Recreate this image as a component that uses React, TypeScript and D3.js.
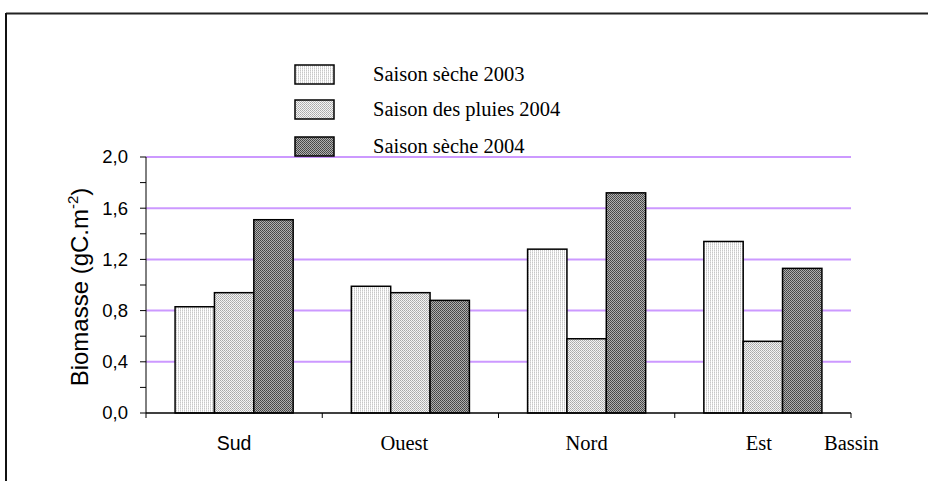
import React from "react";
import * as d3 from "d3";

const categories = ["Sud", "Ouest", "Nord", "Est"];
const seriesNames = ["Saison sèche 2003", "Saison des pluies 2004", "Saison sèche 2004"];
const seche2003 = [0.83, 0.99, 1.28, 1.34];
const pluies2004 = [0.94, 0.94, 0.58, 0.56];
const seche2004 = [1.51, 0.88, 1.72, 1.13];
const yTicks = [0, 0.4, 0.8, 1.2, 1.6, 2.0];
const yMinorTicks = [0.2, 0.6, 1.0, 1.4, 1.8];
const xAxisName = "Bassin";

const W = 928;
const H = 481;
const x0 = 146;
const x1 = 851;
const yTop = 157;
const yBot = 413;

export default function App() {
  const series = [seche2003, pluies2004, seche2004];
  const x = d3.scaleBand<string>().domain(categories).range([x0, x1]).paddingInner(0.33).paddingOuter(0.165);
  const xs = d3.scaleBand<number>().domain([0, 1, 2]).range([0, x.bandwidth()]).padding(0);
  const y = d3.scaleLinear().domain([0, 2]).range([yBot, yTop]);
  const step = (x1 - x0) / categories.length;
  const boundaries = d3.range(1, categories.length + 1).map((i) => x0 + i * step);
  const patIds = ["p1", "p2", "p3"];
  const serif = "'Liberation Serif', 'Times New Roman', serif";
  const sans = "'Liberation Sans', Arial, sans-serif";
  const legendY = [65, 100, 137];
  const fmt = (v: number) => v.toFixed(1).replace(".", ",");

  return (
    <svg width={W} height={H} style={{ position: "absolute", left: 0, top: 0 }}>
      <defs>
        <pattern id="p1" width="2" height="2" patternUnits="userSpaceOnUse">
          <rect width="2" height="2" fill="#ffffff" />
          <rect x="0" y="0" width="1" height="1" fill="#c8c8c8" />
          <rect x="0" y="1" width="1" height="1" fill="#e0e0e0" />
        </pattern>
        <pattern id="p2" width="2" height="2" patternUnits="userSpaceOnUse">
          <rect width="2" height="2" fill="#f4f4f4" />
          <rect x="0" y="0" width="1" height="1" fill="#a8a8a8" />
          <rect x="1" y="1" width="1" height="1" fill="#b8b8b8" />
        </pattern>
        <pattern id="p3" width="2" height="2" patternUnits="userSpaceOnUse">
          <rect width="2" height="2" fill="#b0b0b0" />
          <rect x="0" y="0" width="1" height="1" fill="#444444" />
          <rect x="1" y="1" width="1" height="1" fill="#505050" />
        </pattern>
      </defs>
      <rect width={W} height={H} fill="#ffffff" />
      {/* frame */}
      <line x1={6} x2={W} y1={13.5} y2={13.5} stroke="#222" strokeWidth={2} />
      <line x1={6} x2={6} y1={13} y2={H} stroke="#111" strokeWidth={2} />

      {/* gridlines */}
      {yTicks.filter((t) => t > 0).map((t) => (
        <line key={"g" + t} x1={x0} x2={x1} y1={y(t)} y2={y(t)} stroke="#cc99ff" strokeWidth={2} />
      ))}

      {/* bars */}
      {categories.map((c, i) => (
        <g key={c}>
          {series.map((s, j) => (
            <rect
              key={j}
              x={(x(c) as number) + (xs(j) as number)}
              y={y(s[i])}
              width={xs.bandwidth()}
              height={y(0) - y(s[i])}
              fill={`url(#${patIds[j]})`}
              stroke="#000"
              strokeWidth={1.5}
            />
          ))}
        </g>
      ))}

      {/* y axis */}
      <line x1={x0} x2={x0} y1={yTop} y2={yBot + 5} stroke="#000" strokeWidth={1} />
      {yTicks.map((t) => (
        <g key={"t" + t}>
          <line x1={x0 - 6} x2={x0} y1={y(t)} y2={y(t)} stroke="#000" strokeWidth={1} />
          <text x={x0 - 18} y={y(t)} dy="0.35em" textAnchor="end" fontFamily={sans} fontSize={18.5} fill="#000">
            {fmt(t)}
          </text>
        </g>
      ))}
      {yMinorTicks.map((t) => (
        <line key={"m" + t} x1={x0 - 6} x2={x0} y1={y(t)} y2={y(t)} stroke="#000" strokeWidth={1} />
      ))}
      <text
        transform={`translate(${88},${(yTop + yBot) / 2 + 2}) rotate(-90)`}
        textAnchor="middle"
        fontFamily={sans}
        fontSize={24}
        fill="#000"
      >
        Biomasse (gC.m
        <tspan fontSize={15} dy={-10}>-2</tspan>
        <tspan dy={10}>)</tspan>
      </text>

      {/* x axis */}
      <line x1={x0} x2={x1} y1={yBot} y2={yBot} stroke="#000" strokeWidth={1.5} />
      {boundaries.map((b, i) => (
        <line key={"b" + i} x1={b} x2={b} y1={yBot} y2={yBot + 5} stroke="#000" strokeWidth={1} />
      ))}
      {categories.map((c, i) => (
        <text
          key={"l" + c}
          x={(x(c) as number) + x.bandwidth() / 2 + (i === 3 ? -4 : i === 1 ? -6 : 0)}
          y={450}
          textAnchor="middle"
          fontFamily={i === 0 ? sans : serif}
          fontSize={i === 0 ? 19.5 : 20.5}
          fill="#000"
        >
          {c}
        </text>
      ))}
      <text x={824} y={450} fontFamily={serif} fontSize={20.5} fill="#000">
        {xAxisName}
      </text>

      {/* legend */}
      {seriesNames.map((n, j) => (
        <g key={"lg" + j}>
          <rect x={295} y={legendY[j]} width={39} height={19} fill={`url(#${patIds[j]})`} stroke="#000" strokeWidth={1.5} />
          <text x={373} y={legendY[j] + 16} fontFamily={serif} fontSize={20.5} fill="#000">
            {n}
          </text>
        </g>
      ))}
    </svg>
  );
}
